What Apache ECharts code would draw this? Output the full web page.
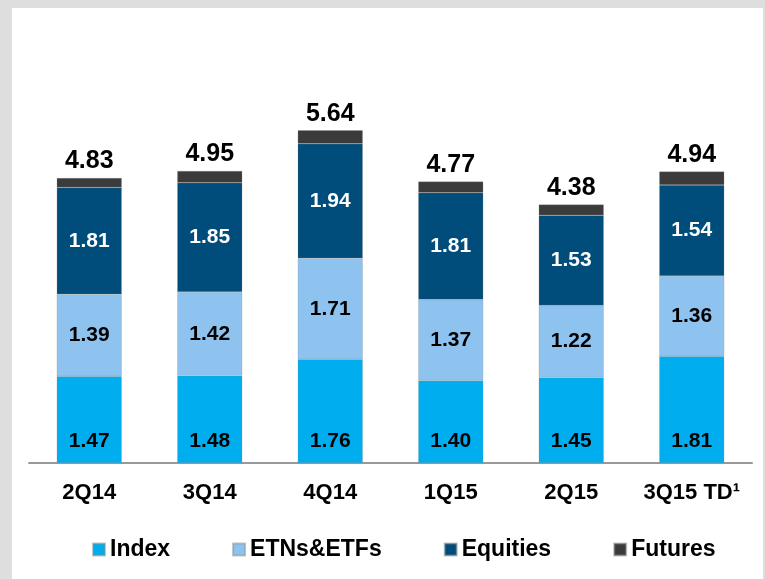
<!DOCTYPE html>
<html>
<head>
<meta charset="utf-8">
<script src="https://cdn.jsdelivr.net/npm/echarts@6/dist/echarts.min.js"></script>
<style>
  html, body { margin: 0; padding: 0; background: #dedede; }
  #frame {
    position: absolute;
    left: 12px;
    top: 8px;
    width: 751px;
    height: 571px;
    background: #ffffff;
  }
  #main {
    position: absolute;
    left: 0;
    top: 0;
    width: 765px;
    height: 579px;
  }
</style>
</head>
<body>
<div id="frame"></div>
<div id="main"></div>
<script>
const categories = ["2Q14", "3Q14", "4Q14", "1Q15", "2Q15", "3Q15 TD\u00B9"];
const indexValues = [1.47, 1.48, 1.76, 1.40, 1.45, 1.81];
const etnValues = [1.39, 1.42, 1.71, 1.37, 1.22, 1.36];
const equityValues = [1.81, 1.85, 1.94, 1.81, 1.53, 1.54];
const futuresValues = [0.16, 0.20, 0.23, 0.19, 0.18, 0.23];
const totals = [4.83, 4.95, 5.64, 4.77, 4.38, 4.94];

const _font = "Liberation Sans, Arial, sans-serif";

const chart = echarts.init(document.getElementById("main"), null, { renderer: "canvas" });

const segLabel = function (color, position, distance) {
  return {
    show: true,
    position: position,
    distance: distance,
    color: color,
    fontFamily: _font,
    fontWeight: "bold",
    fontSize: 21,
    formatter: function (p) {
      return p.value.toFixed(2);
    },
  };
};

const option = {
  backgroundColor: "transparent",
  animation: false,
  grid: {
    left: 29,
    right: 13,
    top: 50,
    bottom: 116,
  },
  legend: {
    left: 92,
    top: 538,
    padding: 0,
    itemWidth: 12,
    itemHeight: 12,
    itemGap: 62,
    icon: "rect",
    textStyle: {
      fontFamily: _font,
      fontWeight: "bold",
      fontSize: 23,
      color: "#000",
    },
    data: ["Index", "ETNs&ETFs", "Equities", "Futures"],
  },
  xAxis: {
    type: "category",
    data: categories,
    axisLine: { show: true, lineStyle: { color: "#999999", width: 2 } },
    axisTick: { show: false },
    axisLabel: {
      interval: 0,
      margin: 19,
      color: "#000",
      fontFamily: _font,
      fontWeight: "bold",
      fontSize: 22,
    },
  },
  yAxis: {
    type: "value",
    min: 0,
    max: 7,
    show: false,
    splitLine: { show: false },
  },
  series: [
    {
      name: "Index",
      type: "bar",
      stack: "total",
      barWidth: 65,
      itemStyle: { color: "#00AEEF", borderColor: "rgba(140,140,140,0.5)", borderWidth: 0.5 },
      label: segLabel("#000", "insideBottom", 11),
      data: indexValues,
    },
    {
      name: "ETNs&ETFs",
      type: "bar",
      stack: "total",
      itemStyle: { color: "#8EC3F0", borderColor: "rgba(140,140,140,0.5)", borderWidth: 0.5 },
      label: segLabel("#000", "inside"),
      data: etnValues,
    },
    {
      name: "Equities",
      type: "bar",
      stack: "total",
      itemStyle: { color: "#004C7A", borderColor: "rgba(140,140,140,0.5)", borderWidth: 0.5 },
      label: segLabel("#fff", "inside"),
      data: equityValues,
    },
    {
      name: "Futures",
      type: "bar",
      stack: "total",
      itemStyle: { color: "#3B3B3B", borderColor: "rgba(140,140,140,0.5)", borderWidth: 0.5 },
      label: {
        show: true,
        position: "top",
        distance: 4,
        color: "#000",
        fontFamily: _font,
        fontWeight: "bold",
        fontSize: 25,
        formatter: function (p) {
          return totals[p.dataIndex].toFixed(2);
        },
      },
      data: futuresValues,
    },
  ],
};

chart.setOption(option);
</script>
</body>
</html>
